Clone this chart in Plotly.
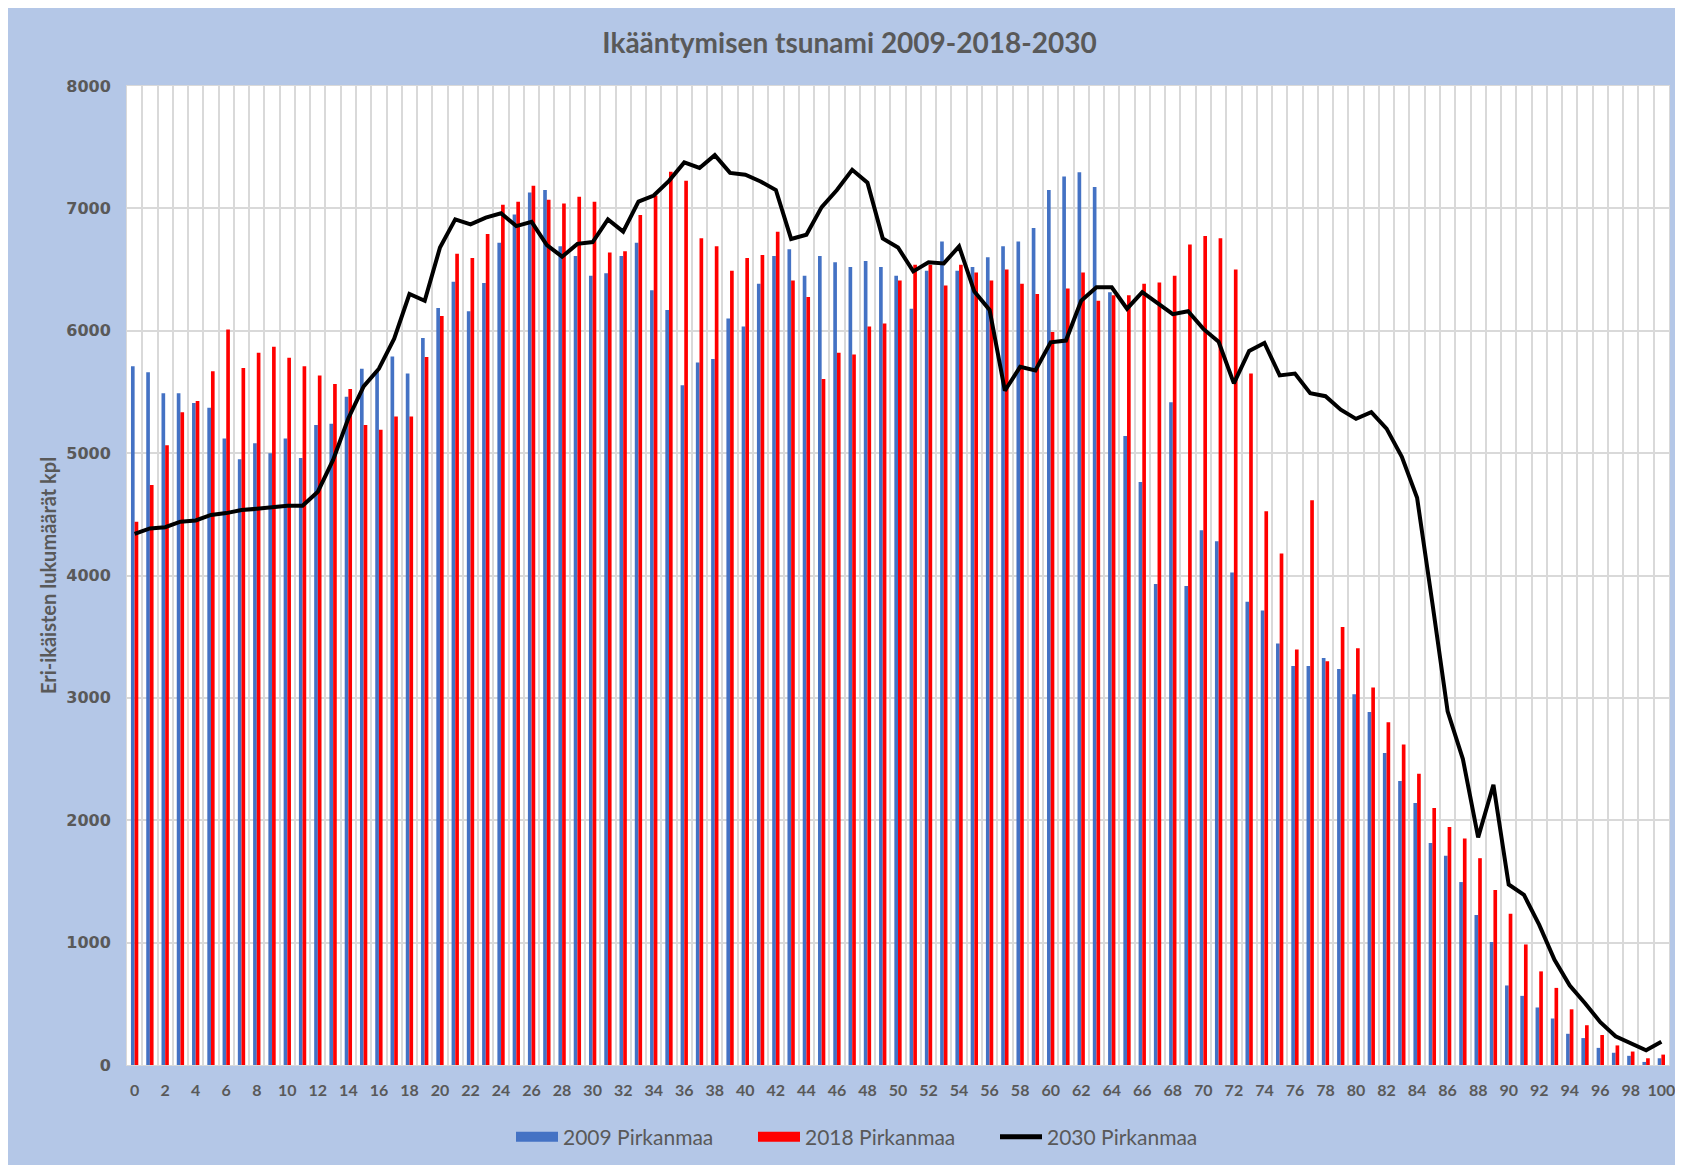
import plotly.graph_objects as go

ages = list(range(101))
tick_vals = list(range(0, 101, 2))
tick_text = [str(v) for v in tick_vals]

pop_2009 = [5710, 5660, 5490, 5490, 5410, 5370, 5120, 4950, 5080, 5000,
            5120, 4960, 5230, 5240, 5460, 5690, 5670, 5790, 5650, 5940,
            6185, 6400, 6160, 6390, 6720, 6950, 7130, 7150, 6690, 6610,
            6450, 6470, 6610, 6720, 6330, 6170, 5555, 5740, 5770, 6100,
            6035, 6385, 6610, 6665, 6450, 6610, 6560, 6520, 6570, 6520,
            6450, 6180, 6490, 6730, 6490, 6520, 6600, 6690, 6730, 6840,
            7150, 7260, 7295, 7175, 6315, 5140, 4765, 3930, 5415, 3915,
            4370, 4280, 4025, 3785, 3715, 3445, 3260, 3260, 3325, 3235,
            3030, 2885, 2550, 2320, 2140, 1815, 1710, 1495, 1225, 1005,
            650, 565, 470, 380, 255, 220, 140, 100, 75, 25, 55]

pop_2018 = [4440, 4740, 5065, 5335, 5425, 5670, 6010, 5695, 5820, 5870,
            5780, 5710, 5635, 5565, 5525, 5230, 5190, 5300, 5300, 5785,
            6120, 6630, 6595, 6790, 7030, 7055, 7185, 7070, 7040, 7095,
            7055, 6640, 6650, 6945, 7105, 7300, 7225, 6755, 6690, 6490,
            6595, 6620, 6810, 6410, 6275, 5605, 5820, 5805, 6035, 6060,
            6410, 6540, 6540, 6370, 6540, 6475, 6410, 6500, 6385, 6300,
            5990, 6345, 6475, 6245, 6290, 6290, 6385, 6395, 6450, 6705,
            6775, 6755, 6500, 5650, 4525, 4180, 3395, 4615, 3300, 3580,
            3405, 3085, 2800, 2620, 2380, 2100, 1945, 1850, 1690, 1430,
            1235, 985, 765, 630, 455, 325, 245, 160, 110, 55, 85]

pop_2030 = [4340, 4385, 4395, 4440, 4450, 4495, 4510, 4535, 4545, 4560,
            4570, 4570, 4685, 4945, 5285, 5545, 5690, 5935, 6300, 6245,
            6680, 6910, 6870, 6925, 6960, 6855, 6890, 6700, 6605, 6710,
            6725, 6910, 6810, 7055, 7105, 7225, 7375, 7330, 7435, 7290,
            7275, 7220, 7150, 6750, 6785, 7010, 7150, 7315, 7210, 6755,
            6680, 6485, 6560, 6550, 6690, 6320, 6170, 5510, 5705, 5675,
            5905, 5920, 6245, 6355, 6355, 6180, 6315, 6225, 6135, 6160,
            6015, 5910, 5570, 5835, 5900, 5635, 5650, 5490, 5465, 5355,
            5280, 5335, 5200, 4970, 4635, 3775, 2890, 2500, 1860, 2290,
            1475, 1390, 1145, 860, 650, 505, 350, 235, 180, 120, 190]

W, H = 1683, 1165
ML, MR, MT, MB = 119, 22, 78, 108
PW, PH = W - ML - MR, H - MT - MB
GRAY = "#595959"
GRID = "#D9D9D9"
BG = "#B4C7E7"
BLUE = "#4472C4"
RED = "#FF0000"

fig = go.Figure()
fig.add_trace(go.Bar(x=ages, y=pop_2009, name="2009 Pirkanmaa", marker_color=BLUE,
                     marker_line_width=0, showlegend=False))
fig.add_trace(go.Bar(x=ages, y=pop_2018, name="2018 Pirkanmaa", marker_color=RED,
                     marker_line_width=0, showlegend=False))
fig.add_trace(go.Scatter(x=ages, y=pop_2030, name="2030 Pirkanmaa", mode="lines",
                         line=dict(color="black", width=4), showlegend=False))

# legend-only entries (wide rectangle keys like the original)
fig.add_trace(go.Scatter(x=[None], y=[None], name="2009 Pirkanmaa", mode="lines",
                         line=dict(color=BLUE, width=12)))
fig.add_trace(go.Scatter(x=[None], y=[None], name="2018 Pirkanmaa", mode="lines",
                         line=dict(color=RED, width=12)))
fig.add_trace(go.Scatter(x=[None], y=[None], name="2030 Pirkanmaa", mode="lines",
                         line=dict(color="black", width=5)))


def px_x(p):
    return (p - ML) / PW


def px_y(p):
    return (H - MB - p) / PH


fig.update_layout(
    width=W, height=H, autosize=False,
    margin=dict(l=ML, r=MR, t=MT, b=MB, autoexpand=False),
    paper_bgcolor=BG, plot_bgcolor="white",
    barmode="group", bargap=0.52, bargroupgap=0,
    title=dict(text="<b>Ikääntymisen tsunami 2009-2018-2030</b>", x=0.5, xref="container",
               xanchor="center", y=1 - 35 / H, yref="container", yanchor="middle",
               font=dict(family="Lato", size=28, color=GRAY)),
    legend=dict(orientation="h", x=px_x(866), xanchor="center",
                y=px_y(1129), yanchor="middle", font=dict(family="Lato", size=21, color=GRAY),
                bgcolor="rgba(0,0,0,0)", traceorder="normal", itemwidth=42,
                entrywidth=185, entrywidthmode="pixels"),
    showlegend=True,
)

fig.update_xaxes(
    range=[-0.5, 100.5], tickmode="array", tickvals=tick_vals, ticktext=tick_text,
    tickangle=0, showgrid=False, zeroline=False, showline=True, linecolor=GRID, mirror=True,
    tickfont=dict(family="Lato", size=16, color=GRAY, weight="bold"),
    ticks="", ticklabelstandoff=11, automargin=False,
    minor=dict(tick0=0.5, dtick=1, showgrid=True, gridcolor=GRID, gridwidth=1.5),
)
fig.update_yaxes(
    range=[0, 8000], dtick=1000, showgrid=True, gridcolor=GRID, gridwidth=1.5,
    zeroline=False, showline=True, linecolor=GRID, mirror=True, automargin=False,
    tickfont=dict(family="DejaVu Sans", size=16, color=GRAY, weight="bold"),
    ticks="", ticklabelstandoff=12,
    title=dict(text="<b>Eri-ikäisten lukumäärät kpl</b>", standoff=4,
               font=dict(family="Lato", size=20, color=GRAY)),
)

fig.write_html("out.html")
